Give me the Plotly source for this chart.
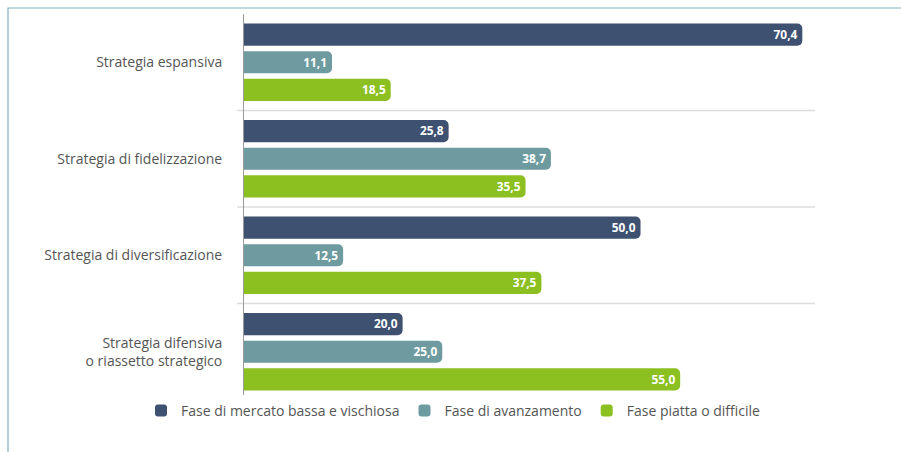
import plotly.graph_objects as go

# Strategie (dall'alto verso il basso)
categorie = [
    "Strategia espansiva",
    "Strategia di fidelizzazione",
    "Strategia di diversificazione",
    "Strategia difensiva<br>o riassetto strategico",
]

# Serie per fase di mercato (%)
serie_nomi = [
    "Fase di mercato bassa e vischiosa",
    "Fase di avanzamento",
    "Fase piatta o difficile",
]
fase_bassa = [70.4, 25.8, 50.0, 20.0]
fase_avanzamento = [11.1, 38.7, 12.5, 25.0]
fase_piatta = [18.5, 35.5, 37.5, 55.0]

colori = ["#3e5170", "#6e9b9f", "#8cc021"]

W, H = 901, 452
ML, MR, MT, MB = 244, 86, 14, 52
PW, PH = W - ML - MR, H - MT - MB

fig = go.Figure()
for nome, valori, colore in zip(serie_nomi, [fase_bassa, fase_avanzamento, fase_piatta], colori):
    fig.add_trace(go.Bar(
        y=categorie,
        x=valori,
        name=nome,
        orientation="h",
        marker=dict(color=colore, cornerradius=5, line=dict(width=0)),
        text=[f"{v:.1f}".replace(".", ",") for v in valori],
        textposition="inside",
        insidetextanchor="end",
        textfont=dict(color="white", size=12.5, family="Open Sans", weight="bold"),
        cliponaxis=False,
    ))

# Linee di separazione tra i gruppi
for i in range(len(categorie) - 1):
    fig.add_shape(type="line", xref="paper", yref="y",
                  x0=-0.012, x1=1.0, y0=i + 0.5, y1=i + 0.5,
                  line=dict(color="#dcdcdc", width=1.5), layer="below")

# Cornice esterna
def px_x(p):
    return (p - ML) / PW

def px_y(p):
    return (H - MB - p) / PH

fig.add_shape(type="rect", xref="paper", yref="paper",
              x0=px_x(8), x1=px_x(W + 20), y0=px_y(H + 20), y1=px_y(8),
              line=dict(color="#7fb3bf", width=1.2), fillcolor="rgba(0,0,0,0)")

fig.update_layout(
    width=W, height=H,
    margin=dict(l=ML, r=MR, t=MT, b=MB, autoexpand=False),
    paper_bgcolor="white", plot_bgcolor="white",
    barmode="group", bargap=0.14, bargroupgap=0.2,
    font=dict(family="Open Sans", color="#555555", size=11),
    showlegend=True,
    legend=dict(orientation="h", x=px_x(141), xanchor="left", y=px_y(411), yanchor="middle",
                font=dict(size=14, color="#555555"), itemwidth=30,
                traceorder="normal"),
    uniformtext=dict(minsize=8, mode="show"),
)
fig.update_xaxes(range=[0, 72], showgrid=False, zeroline=False, showticklabels=False,
                 showline=False, fixedrange=True)
fig.update_yaxes(autorange="reversed", showgrid=False, showline=True,
                 linecolor="#9a9a9a", linewidth=1, ticks="", ticklabelstandoff=18,
                 tickfont=dict(size=14, color="#555555"))

fig.write_html("out.html")
